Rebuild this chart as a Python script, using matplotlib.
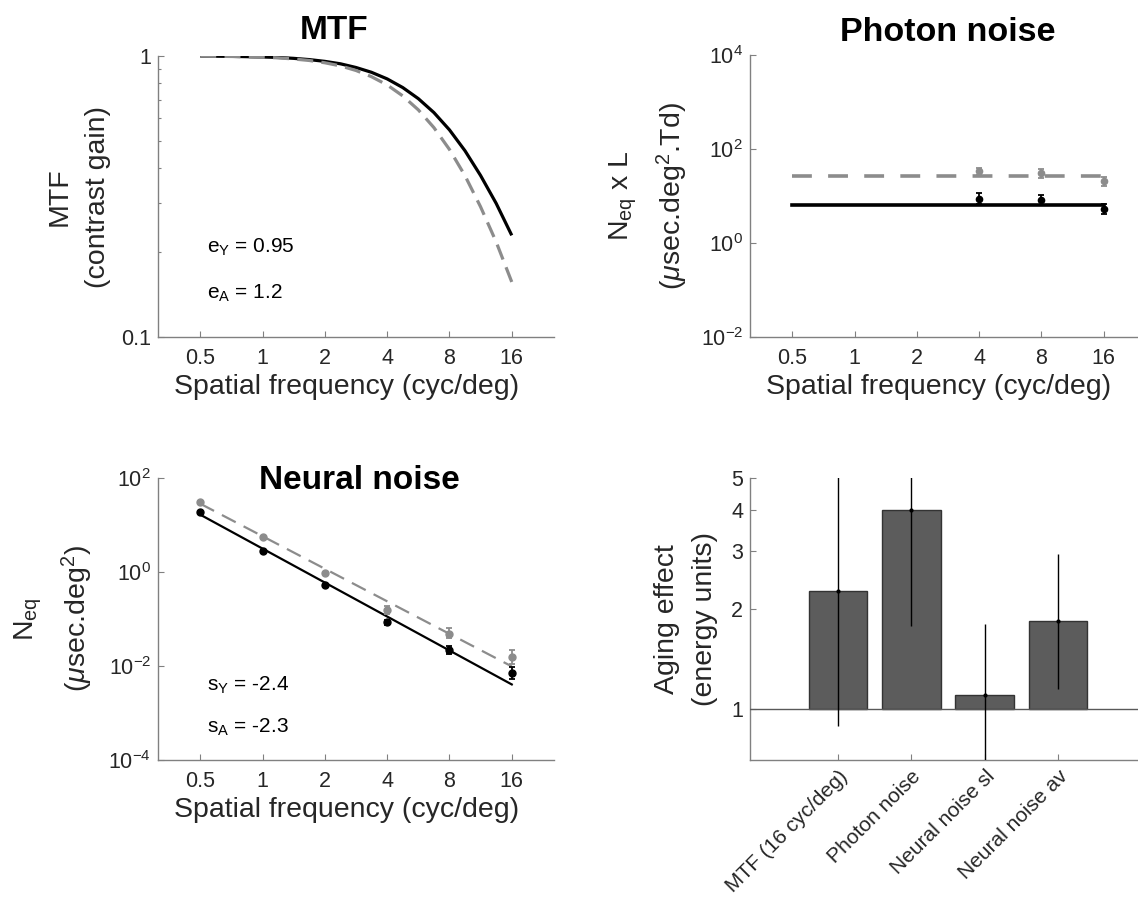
import matplotlib
matplotlib.use('Agg')
import matplotlib.pyplot as plt
from matplotlib.ticker import NullLocator, NullFormatter, LogLocator, FixedLocator
import numpy as np

plt.rcParams['font.family'] = ['Liberation Sans', 'DejaVu Sans']
plt.rcParams['mathtext.fontset'] = 'custom'
plt.rcParams['mathtext.rm'] = 'Liberation Sans'
plt.rcParams['mathtext.it'] = 'Liberation Sans:italic'
plt.rcParams['mathtext.bf'] = 'Liberation Sans:bold'

# spatial frequencies (cyc/deg)
freq_ticks = [0.5, 1, 2, 4, 8, 16]
freq_labels = ['0.5', '1', '2', '4', '8', '16']

# MTF curves, young (black) and aged (grey)
mtf_freq = [0.5, 0.71, 1, 1.19, 1.41, 1.68, 2, 2.38, 2.83, 3.36, 4, 4.76, 5.66,
            6.73, 8, 9.51, 11.3, 13.45, 16]
mtf_young = [0.999, 0.997, 0.992, 0.988, 0.981, 0.971, 0.957, 0.938, 0.910, 0.875,
             0.829, 0.772, 0.705, 0.629, 0.546, 0.460, 0.376, 0.299, 0.230]
mtf_aged = [0.999, 0.996, 0.990, 0.985, 0.976, 0.964, 0.946, 0.922, 0.888, 0.844,
            0.789, 0.721, 0.643, 0.556, 0.465, 0.375, 0.291, 0.218, 0.157]
e_young, e_aged = 0.95, 1.2

# photon noise (Neq x L)
photon_level_young = 6.5
photon_level_aged = 26.0
photon_freq = [4, 8, 16]
photon_young = [8.8, 8.1, 5.4]
photon_young_lo = [6.9, 6.4, 4.2]
photon_young_hi = [11.6, 10.5, 6.9]
photon_aged = [33.4, 30.9, 20.5]
photon_aged_lo = [27.5, 24.0, 16.0]
photon_aged_hi = [40.0, 38.0, 25.5]

# neural noise (Neq)
neural_freq = [0.5, 1, 2, 4, 8, 16]
neural_young = [18.5, 2.84, 0.53, 0.086, 0.0222, 0.0071]
neural_young_lo = [17.5, 2.70, 0.50, 0.0756, 0.0183, 0.00537]
neural_young_hi = [19.5, 3.00, 0.56, 0.0966, 0.0261, 0.00933]
neural_aged = [30.3, 5.45, 0.95, 0.158, 0.0487, 0.0155]
neural_aged_lo = [28.8, 5.15, 0.90, 0.130, 0.0394, 0.0112]
neural_aged_hi = [31.8, 5.75, 1.00, 0.185, 0.0644, 0.0215]
neural_fit_young_at_half = 16.6
neural_fit_aged_at_half = 28.4
s_young, s_aged = -2.4, -2.3

# aging effects
effect_names = ['MTF (16 cyc/deg)', 'Photon noise', 'Neural noise sl', 'Neural noise av']
effect_values = [2.27, 4.0, 1.1, 1.85]
effect_lo = [0.887, 1.78, 0.6, 1.15]
effect_hi = [6.0, 5.5, 1.81, 2.95]

GREY = '#8c8c8c'
AXCOL = '#808080'
TXT = '#262626'
W, H = 1138, 908

fig = plt.figure(figsize=(W / 100, H / 100), dpi=100)


def box(left, top, width, height):
    return fig.add_axes([left / W, (H - top - height) / H, width / W, height / H])


def style(ax):
    for side in ('top', 'right'):
        ax.spines[side].set_visible(False)
    for side in ('left', 'bottom'):
        ax.spines[side].set_color(AXCOL)
        ax.spines[side].set_linewidth(1.0)
    ax.tick_params(which='both', direction='in', color=AXCOL, labelcolor=TXT,
                   labelsize=15.5, width=0.8)
    ax.tick_params(which='major', length=4)
    ax.tick_params(which='minor', length=2.5)
    ax.tick_params(axis='x', pad=8)
    ax.tick_params(axis='y', pad=5)


def freq_axis(ax):
    ax.set_xscale('log')
    ax.set_xlim(0.3125, 25.6)
    ax.xaxis.set_major_locator(FixedLocator(freq_ticks))
    ax.set_xticklabels(freq_labels)
    ax.xaxis.set_minor_locator(NullLocator())
    ax.set_xlabel('Spatial frequency (cyc/deg)', fontsize=20.5, color=TXT)
    ax.xaxis.set_label_coords(0.475, -0.13)


def ylab(ax, text, x):
    ax.text(x, 0.5, text, transform=ax.transAxes, rotation=90, ha='center',
            va='center', fontsize=20.5, color=TXT, linespacing=1.6, multialignment='center')


# MTF
ax1 = box(158, 56, 396, 281)
style(ax1)
freq_axis(ax1)
ax1.set_yscale('log')
ax1.set_ylim(0.1, 1)
ax1.yaxis.set_major_locator(FixedLocator([0.1, 1]))
ax1.set_yticklabels(['0.1', '1'])
ax1.yaxis.set_minor_locator(LogLocator(base=10, subs=np.arange(2, 10)))
ax1.yaxis.set_minor_formatter(NullFormatter())
ax1.plot(mtf_freq, mtf_young, color='k', lw=2.3, solid_capstyle='butt')
ax1.plot(mtf_freq, mtf_aged, color=GREY, lw=2.3, dashes=(5, 2.6))
ax1.text(0.124, 0.32, r'e$_{\rm Y}$ = %.2f' % e_young, transform=ax1.transAxes,
         fontsize=15, va='center', color='k')
ax1.text(0.124, 0.155, r'e$_{\rm A}$ = %.1f' % e_aged, transform=ax1.transAxes,
         fontsize=15, va='center', color='k')
ax1.text(0.445, 1.06, 'MTF', transform=ax1.transAxes, ha='center', va='baseline',
         fontsize=24, fontweight='bold')
ylab(ax1, 'MTF\n(contrast gain)', -0.2)

# Photon noise
ax2 = box(750, 55, 396, 282)
style(ax2)
freq_axis(ax2)
ax2.set_yscale('log')
ax2.set_ylim(1e-2, 1e4)
ax2.yaxis.set_major_locator(FixedLocator([1e-2, 1, 1e2, 1e4]))
ax2.yaxis.set_minor_locator(NullLocator())
ax2.plot([neural_freq[0], neural_freq[-1]], [photon_level_aged] * 2, color=GREY, lw=2.6,
         dashes=(5.5, 4.5))
ax2.plot([neural_freq[0], neural_freq[-1]], [photon_level_young] * 2, color='k', lw=2.6)
for vals, lo, hi, col in [(photon_aged, photon_aged_lo, photon_aged_hi, GREY),
                          (photon_young, photon_young_lo, photon_young_hi, 'k')]:
    v = np.array(vals)
    ax2.errorbar(photon_freq, v, yerr=[v - np.array(lo), np.array(hi) - v], fmt='o',
                 color=col, ms=4.5, elinewidth=1.3, capsize=2.5, capthick=1.3)
ax2.text(0.5, 1.05, 'Photon noise', transform=ax2.transAxes, ha='center', va='baseline',
         fontsize=24.5, fontweight='bold')
ylab(ax2, 'N$_{\\rm eq}$ x L\n($\\mu$sec.deg$^{2}$.Td)', -0.255)

# Neural noise
ax3 = box(158, 478, 396, 282)
style(ax3)
freq_axis(ax3)
ax3.set_yscale('log')
ax3.set_ylim(1e-4, 1e2)
ax3.yaxis.set_major_locator(FixedLocator([1e-4, 1e-2, 1, 1e2]))
ax3.yaxis.set_minor_locator(NullLocator())
fit_f = np.array([neural_freq[0], neural_freq[-1]])
ax3.plot(fit_f, neural_fit_aged_at_half * (fit_f / 0.5) ** s_aged, color=GREY, lw=1.6,
         dashes=(7, 4))
ax3.plot(fit_f, neural_fit_young_at_half * (fit_f / 0.5) ** s_young, color='k', lw=1.6)
for vals, lo, hi, col in [(neural_aged, neural_aged_lo, neural_aged_hi, GREY),
                          (neural_young, neural_young_lo, neural_young_hi, 'k')]:
    v = np.array(vals)
    ax3.errorbar(neural_freq, v, yerr=[v - np.array(lo), np.array(hi) - v], fmt='o',
                 color=col, ms=5, elinewidth=1.3, capsize=2.5, capthick=1.3)
ax3.text(0.124, 0.265, r's$_{\rm Y}$ = %.1f' % s_young, transform=ax3.transAxes,
         fontsize=15, va='center', color='k')
ax3.text(0.124, 0.117, r's$_{\rm A}$ = %.1f' % s_aged, transform=ax3.transAxes,
         fontsize=15, va='center', color='k')
ax3.text(0.508, 0.96, 'Neural noise', transform=ax3.transAxes, ha='center', va='baseline',
         fontsize=24, fontweight='bold')
ylab(ax3, 'N$_{\\rm eq}$\n($\\mu$sec.deg$^{2}$)', -0.262)

# Aging effect bars
ax4 = box(750, 478, 396, 282)
style(ax4)
pos = np.arange(1, len(effect_values) + 1)
vals = np.array(effect_values)
ax4.set_yscale('log')
ax4.set_ylim(0.7, 5)
ax4.set_xlim(-0.2, 5.2)
ax4.bar(pos, vals - 1, bottom=1, width=0.8, color='#5c5c5c', edgecolor='#333333',
        linewidth=1.0, zorder=2)
ax4.axhline(1, color='#595959', lw=1.0, zorder=3)
ax4.errorbar(pos, vals, yerr=[vals - np.array(effect_lo), np.array(effect_hi) - vals],
             fmt='.', color='k', ms=4, elinewidth=1.0, capsize=0, zorder=4)
ax4.yaxis.set_major_locator(FixedLocator([1, 2, 3, 4, 5]))
ax4.set_yticklabels(['1', '2', '3', '4', '5'])
ax4.yaxis.set_minor_locator(NullLocator())
ax4.set_xticks(pos)
ax4.set_xticklabels(effect_names, rotation=45, ha='right', va='top', rotation_mode='anchor',
                    fontsize=15)
ax4.tick_params(axis='x', pad=5)
ylab(ax4, 'Aging effect\n(energy units)', -0.162)

fig.savefig('out.png', dpi=100)
